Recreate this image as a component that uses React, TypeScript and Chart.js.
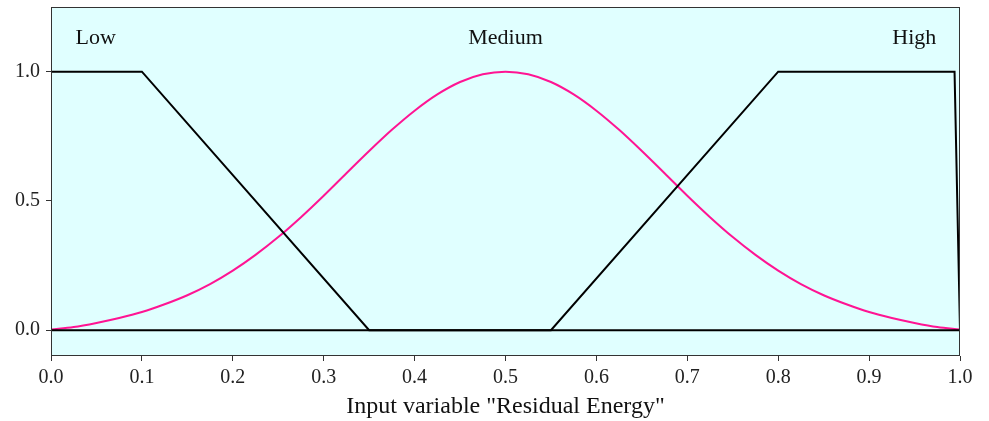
import React, { useEffect, useRef } from "react";
import { Chart, registerables } from "chart.js";

Chart.register(...registerables);

const lowX = [0, 0.1, 0.35, 1.0];
const lowY = [1, 1, 0, 0];

const highX = [0, 0.55, 0.8, 0.994, 1.0];
const highY = [0, 0, 1, 1, 0];

const mediumX = [
  0, 0.025, 0.05, 0.075, 0.1, 0.125, 0.15, 0.175, 0.2, 0.225, 0.25, 0.275, 0.3, 0.325, 0.35, 0.375, 0.4, 0.425, 0.45,
  0.475, 0.5, 0.525, 0.55, 0.575, 0.6, 0.625, 0.65, 0.675, 0.7, 0.725, 0.75, 0.775, 0.8, 0.825, 0.85, 0.875, 0.9,
  0.925, 0.95, 0.975, 1.0,
];
const mediumY = [
  0.002, 0.012, 0.028, 0.047, 0.07, 0.1, 0.135, 0.178, 0.23, 0.291, 0.36, 0.437, 0.52, 0.607, 0.693, 0.775, 0.849,
  0.912, 0.96, 0.99, 1.0, 0.99, 0.96, 0.912, 0.849, 0.775, 0.693, 0.607, 0.52, 0.437, 0.36, 0.291, 0.23, 0.178, 0.135,
  0.1, 0.07, 0.047, 0.028, 0.012, 0.002,
];

const xTicks = [0, 0.1, 0.2, 0.3, 0.4, 0.5, 0.6, 0.7, 0.8, 0.9, 1.0];
const xTickLabels = ["0.0", "0.1", "0.2", "0.3", "0.4", "0.5", "0.6", "0.7", "0.8", "0.9", "1.0"];
const yTicks = [0, 0.5, 1.0];
const yTickLabels = ["0.0", "0.5", "1.0"];

const termNames = ["Low", "Medium", "High"];
const termX = [0.027, 0.5, 0.974];
const termAlign = ["left", "center", "right"];
const termY = 1.13;

const xTitle = 'Input variable "Residual Energy"';

const FONT = "'Liberation Serif', 'Times New Roman', serif";

const pts = (xs: number[], ys: number[]) => xs.map((x, i) => ({ x, y: ys[i] }));

export default function App() {
  const ref = useRef<HTMLCanvasElement>(null);

  useEffect(() => {
    document.body.style.margin = "0";
    const bgPlugin = {
      id: "bgframe",
      beforeDatasetsDraw(chart: any) {
        const { ctx, chartArea: a } = chart;
        ctx.save();
        ctx.fillStyle = "#e0ffff";
        ctx.fillRect(a.left, a.top, a.right - a.left, a.bottom - a.top);
        ctx.restore();
      },
      afterDraw(chart: any) {
        const { ctx, chartArea: a, scales } = chart;
        ctx.save();
        ctx.strokeStyle = "#333333";
        ctx.lineWidth = 1;
        ctx.strokeRect(a.left + 0.5, a.top + 0.5, a.right - a.left - 1, a.bottom - a.top - 1);
        ctx.fillStyle = "#111111";
        ctx.font = `22px ${FONT}`;
        ctx.textBaseline = "middle";
        termNames.forEach((t, i) => {
          ctx.textAlign = termAlign[i] as CanvasTextAlign;
          ctx.fillText(t, scales.x.getPixelForValue(termX[i]), scales.y.getPixelForValue(termY));
        });
        ctx.restore();
      },
    };

    const chart = new Chart(ref.current!, {
      type: "line",
      data: {
        datasets: [
          {
            label: "Low",
            data: pts(lowX, lowY),
            borderColor: "#000000",
            borderWidth: 2,
            pointRadius: 0,
            order: 0,
          },
          {
            label: "Medium",
            data: pts(mediumX, mediumY),
            borderColor: "#ff1493",
            borderWidth: 2,
            pointRadius: 0,
            cubicInterpolationMode: "monotone",
            order: 2,
          },
          {
            label: "High",
            data: pts(highX, highY),
            borderColor: "#000000",
            borderWidth: 2,
            pointRadius: 0,
            order: 1,
          },
        ],
      },
      options: {
        animation: false,
        responsive: false,
        maintainAspectRatio: false,
        layout: { padding: { top: 7, right: 29, left: 0, bottom: 0 } },
        plugins: { legend: { display: false }, tooltip: { enabled: false } },
        scales: {
          x: {
            type: "linear",
            min: 0,
            max: 1,
            afterBuildTicks: (s: any) => {
              s.ticks = xTicks.map((v) => ({ value: v }));
            },
            afterFit: (s: any) => {
              s.height = 65;
              s.paddingLeft = 0;
              s.paddingRight = 0;
            },
            grid: { drawOnChartArea: false, drawTicks: true, tickLength: 5, color: "#333333" },
            border: { display: false },
            ticks: {
              color: "#222222",
              font: { family: FONT, size: 20 },
              padding: 5,
              maxRotation: 0,
              callback: (v: any) => {
                const i = xTicks.findIndex((t) => Math.abs(t - v) < 1e-9);
                return i >= 0 ? xTickLabels[i] : "";
              },
            },
            title: {
              display: true,
              text: xTitle,
              color: "#111111",
              font: { family: FONT, size: 24 },
              padding: { top: 0, bottom: 0 },
            },
          },
          y: {
            type: "linear",
            min: -0.1,
            max: 1.25,
            afterBuildTicks: (s: any) => {
              s.ticks = yTicks.map((v) => ({ value: v }));
            },
            afterFit: (s: any) => {
              s.width = 51;
              s.paddingTop = 0;
              s.paddingBottom = 0;
            },
            grid: { drawOnChartArea: false, drawTicks: true, tickLength: 5, color: "#333333" },
            border: { display: false },
            ticks: {
              color: "#222222",
              font: { family: FONT, size: 20 },
              padding: 6,
              callback: (v: any) => {
                const i = yTicks.findIndex((t) => Math.abs(t - v) < 1e-9);
                return i >= 0 ? yTickLabels[i] : "";
              },
            },
          },
        },
      },
      plugins: [bgPlugin],
    });
    return () => chart.destroy();
  }, []);

  return (
    <div style={{ position: "absolute", left: 0, top: 0, width: 989, height: 421, background: "#ffffff" }}>
      <canvas ref={ref} width={989} height={421} />
    </div>
  );
}
